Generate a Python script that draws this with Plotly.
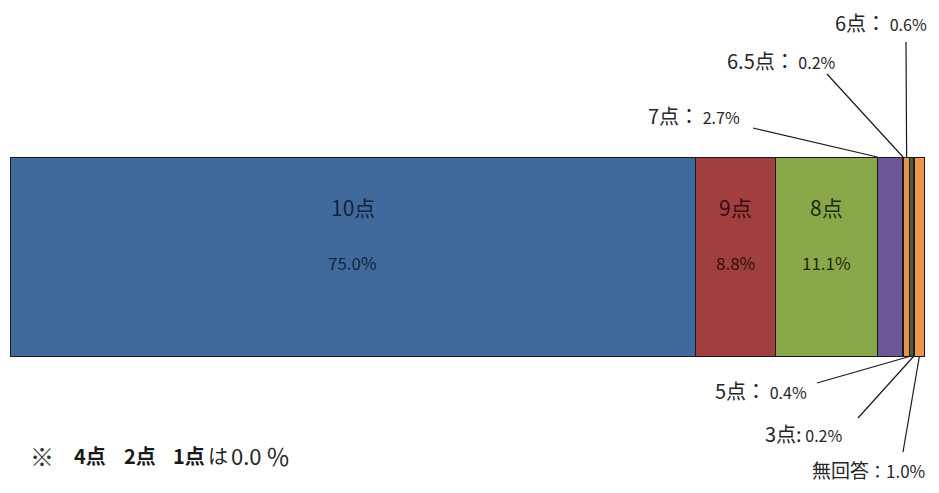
import plotly.graph_objects as go

# ---- data ----
categories = ["10点", "9点", "8点", "7点", "6.5点", "6点", "5点", "3点", "無回答"]
values = [75.0, 8.8, 11.1, 2.7, 0.2, 0.6, 0.4, 0.2, 1.0]
colors = ["#406A9C", "#A0403E", "#88A84A", "#6E5596", "#3A1C1C", "#E8904A", "#4E5E3A", "#3E4E36", "#EE9550"]
text_colors = ["#14243C", "#3C0C0C", "#1C2C0C"]
inside_n = 3  # first three segments labelled inside
zero_categories = ["4点", "2点", "1点"]
zero_value = 0.0

OFF = 8               # page body margin
W, H = 939 - 2 * OFF, 493 - 2 * OFF
PL, PR = 10 - OFF, 924 - OFF      # bar left/right in px
PT, PB = 157 - OFF, 356 - OFF     # bar top/bottom in px

xpp = 100.0 / (PR - PL)
xmin = -PL * xpp
xmax = 100 + (W - PR) * xpp
ypp = 1.0 / (PB - PT)
ymax = 0.5 + PT * ypp
ymin = -0.5 - (H - PB) * ypp

def X(px):
    return xmin + (px - OFF) * xpp

def Y(py):
    return ymax - (py - OFF) * ypp

fig = go.Figure()
for c, v, col in zip(categories, values, colors):
    fig.add_trace(go.Bar(
        x=[v], y=[0], orientation="h", name=c, width=1,
        marker=dict(color=col, line=dict(color="#1a1a1a", width=1)),
        hoverinfo="skip", showlegend=False,
    ))

starts = []
s = 0
for v in values:
    starts.append(s)
    s += v

ann = []
shapes = []
for i in range(inside_n):
    cx = starts[i] + values[i] / 2
    ann.append(dict(x=cx, y=Y(207), xref="x", yref="y", showarrow=False,
                    text=categories[i], font=dict(size=21, color=text_colors[i],
                    family="Noto Sans CJK JP")))
    ann.append(dict(x=cx, y=Y(262), xref="x", yref="y", showarrow=False,
                    text=f"{values[i]:.1f}%", font=dict(size=17, color=text_colors[i],
                    family="Noto Sans CJK JP")))

# outside labels: (index, label center px x, label center px y, line start px, anchor fraction, top?)
outside = [
    (3, 694, 115, (753, 128), 0.0, True),
    (4, 781, 60, (827, 74), 0.5, True),
    (5, 881, 22, (906, 42), 0.5, True),
    (6, 761, 390, (817, 383), 0.5, False),
    (7, 803, 433, (858, 418), 0.5, False),
    (8, 868, 469, (903, 452), 0.5, False),
]
for idx, lx, ly, (sx, sy), frac, top in outside:
    name = categories[idx]
    sep = "：" if idx != 7 else ":"
    txt = f"<span style='font-size:20px'>{name}{sep}</span><span style='font-size:16px'> {values[idx]:.1f}%</span>"
    if idx == 8:
        txt = f"<span style='font-size:19px'>{name}</span><span style='font-size:17px'>：{values[idx]:.1f}%</span>"
    ann.append(dict(x=X(lx), y=Y(ly), xref="x", yref="y", showarrow=False,
                    text=txt, font=dict(size=16, color="#262626", family="Noto Sans CJK JP")))
    ex = starts[idx] + values[idx] * frac
    ey = 0.5 if top else -0.5
    shapes.append(dict(type="line", xref="x", yref="y", x0=X(sx), y0=Y(sy), x1=ex, y1=ey,
                       line=dict(color="#1a1a1a", width=1.2)))

# footnote pieces
foot_y = Y(455)
foot = [("※", 28, dict(size=24, color="#333333"))]
for name, px in zip(zero_categories, [72, 122, 171]):
    foot.append((f"<b>{name}</b>", px, dict(size=20, color="#1a1a1a")))
foot.append(("は", 206, dict(size=20, color="#262626")))
foot.append((f"{zero_value:.1f}", 229, dict(size=22, color="#262626")))
foot.append(("％", 264, dict(size=24, color="#262626")))
for txt, px, f in foot:
    f["family"] = "Noto Sans CJK JP"
    ann.append(dict(x=X(px), y=foot_y, xref="x", yref="y", showarrow=False, xanchor="left",
                    text=txt, font=f))

fig.update_layout(
    width=W, height=H,
    margin=dict(l=0, r=0, t=0, b=0),
    barmode="stack",
    paper_bgcolor="white", plot_bgcolor="white",
    xaxis=dict(range=[xmin, xmax], visible=False, fixedrange=True),
    yaxis=dict(range=[ymin, ymax], visible=False, fixedrange=True),
    annotations=ann, shapes=shapes,
    font=dict(family="Noto Sans CJK JP"),
)
fig.write_html("out.html", config={"displayModeBar": False})
